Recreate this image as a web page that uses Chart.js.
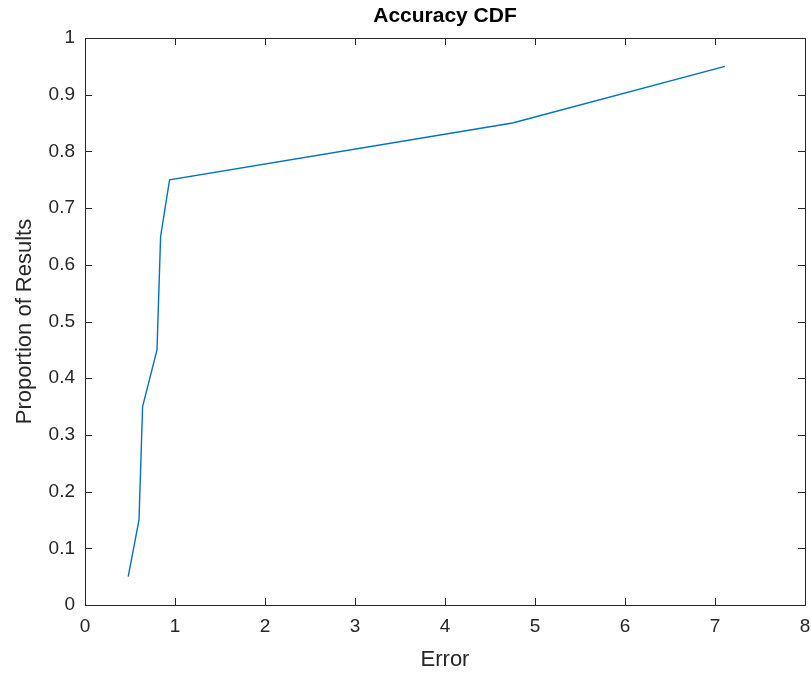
<!DOCTYPE html>
<html>
<head>
<meta charset="utf-8">
<script src="https://cdn.jsdelivr.net/npm/chart.js@4/dist/chart.umd.min.js"></script>
<style>
  html, body { margin: 0; padding: 0; background: #ffffff; }
  #wrap { width: 811px; height: 674px; }
</style>
</head>
<body>
<div id="wrap"><canvas id="cdfChart" width="811" height="674"></canvas></div>
<script>

// ======================
// DATA
// ======================

const errorValues = [0.48, 0.6, 0.64, 0.8, 0.84, 0.94, 4.75, 7.11];
const proportionValues = [0.05, 0.15, 0.35, 0.45, 0.65, 0.75, 0.85, 0.95];

const chartTitle = "Accuracy CDF";
const xTitle = "Error";
const yTitle = "Proportion of Results";


// ======================
// STYLE
// ======================

const textColor = "#262626";
const lineColor = "#0072BD";
const fontFamily = "'Liberation Sans', Arial, Helvetica, sans-serif";


// ======================
// BOX, INNER TICKS, TITLE
// ======================

const matlabBox = {
  id: "matlabBox",

  afterDatasetsDraw(chart) {

    const { ctx, chartArea: a, scales } = chart;
    const tickLen = 7;

    ctx.save();
    ctx.strokeStyle = textColor;
    ctx.lineWidth = 1;

    ctx.strokeRect(
      Math.round(a.left) + 0.5,
      Math.round(a.top) + 0.5,
      Math.round(a.right - a.left),
      Math.round(a.bottom - a.top)
    );

    ctx.beginPath();

    scales.x.ticks.forEach(t => {
      const px = Math.round(scales.x.getPixelForValue(t.value)) + 0.5;
      ctx.moveTo(px, a.bottom);
      ctx.lineTo(px, a.bottom - tickLen);
      ctx.moveTo(px, a.top);
      ctx.lineTo(px, a.top + tickLen);
    });

    scales.y.ticks.forEach(t => {
      const py = Math.round(scales.y.getPixelForValue(t.value)) + 0.5;
      ctx.moveTo(a.left, py);
      ctx.lineTo(a.left + tickLen, py);
      ctx.moveTo(a.right, py);
      ctx.lineTo(a.right - tickLen, py);
    });

    ctx.stroke();

    ctx.fillStyle = "#000000";
    ctx.font = "bold 21px " + fontFamily;
    ctx.textAlign = "center";
    ctx.textBaseline = "middle";
    ctx.fillText(chartTitle, (a.left + a.right) / 2, 16);

    ctx.restore();
  }
};


// ======================
// CHART
// ======================

const points = errorValues.map((x, i) => ({ x, y: proportionValues[i] }));

new Chart(document.getElementById("cdfChart"), {

  type: "line",

  data: {
    datasets: [
      {
        data: points,
        borderColor: lineColor,
        borderWidth: 1.4,
        pointRadius: 0,
        tension: 0,
        fill: false
      }
    ]
  },

  options: {
    responsive: false,
    animation: false,
    layout: {
      autoPadding: false,
      padding: { top: 38, right: 6, left: 0, bottom: 0 }
    },
    plugins: {
      legend: { display: false },
      tooltip: { enabled: false }
    },
    scales: {
      x: {
        type: "linear",
        min: 0,
        max: 8,
        grid: { display: false, drawTicks: false },
        border: { display: false },
        ticks: {
          stepSize: 1,
          padding: 10,
          color: textColor,
          font: { family: fontFamily, size: 19 }
        },
        title: {
          display: true,
          text: xTitle,
          color: textColor,
          font: { family: fontFamily, size: 22 },
          padding: { top: 0, bottom: 1 }
        },
        afterFit(scale) {
          scale.height = 69;
          scale.paddingLeft = 0;
          scale.paddingRight = 0;
        }
      },
      y: {
        type: "linear",
        min: 0,
        max: 1,
        grid: { display: false, drawTicks: false },
        border: { display: false },
        ticks: {
          stepSize: 0.1,
          padding: 10,
          color: textColor,
          font: { family: fontFamily, size: 19 },
          callback: value => String(Math.round(value * 10) / 10)
        },
        title: {
          display: true,
          text: yTitle,
          color: textColor,
          font: { family: fontFamily, size: 22 },
          padding: { top: 12, bottom: 12 }
        },
        afterFit(scale) {
          scale.width = 85;
          scale.paddingTop = 0;
          scale.paddingBottom = 0;
        }
      }
    }
  },

  plugins: [matlabBox]

});

</script>
</body>
</html>
